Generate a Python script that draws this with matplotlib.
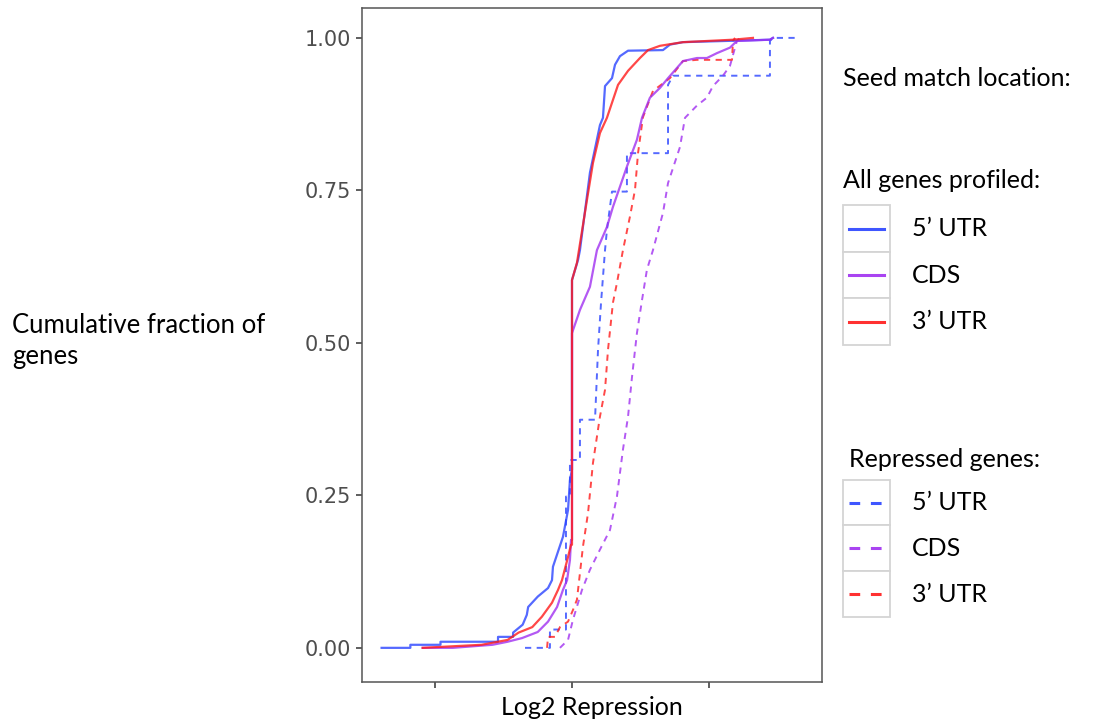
import matplotlib.pyplot as plt
from matplotlib.lines import Line2D
from matplotlib.patches import Rectangle

# Cumulative fraction curves (log2 repression vs. fraction of genes)
# all genes profiled, by seed match location
utr5_all_x = [-1.39, -1.18, -1.18, -0.96, -0.96, -0.54, -0.54, -0.43, -0.43, -0.36, -0.33,
              -0.32, -0.25, -0.175, -0.146, -0.139, -0.066, -0.029, -0.015, 0.0, 0.0, 0.044,
              0.058, 0.131, 0.204, 0.226, 0.241, 0.292, 0.314, 0.350, 0.409, 0.664, 0.715,
              0.810, 1.445, 1.467]
utr5_all_y = [0.0, 0.0, 0.005, 0.005, 0.010, 0.010, 0.018, 0.018, 0.025, 0.038, 0.054,
              0.067, 0.084, 0.098, 0.111, 0.133, 0.182, 0.226, 0.275, 0.292, 0.603, 0.636,
              0.652, 0.779, 0.857, 0.869, 0.921, 0.934, 0.956, 0.970, 0.979, 0.980, 0.989,
              0.993, 0.997, 1.0]

cds_all_x = [-1.09, -0.87, -0.58, -0.47, -0.365, -0.25, -0.175, -0.109, -0.066, -0.036,
             -0.015, -0.007, 0.0, 0.0, 0.058, 0.131, 0.182, 0.255, 0.299, 0.401, 0.474,
             0.511, 0.569, 0.642, 0.701, 0.810, 0.912, 0.985, 1.058, 1.153, 1.204, 1.445, 1.467]
cds_all_y = [0.0, 0.0, 0.005, 0.010, 0.016, 0.026, 0.043, 0.067, 0.095, 0.111,
             0.144, 0.177, 0.177, 0.516, 0.554, 0.592, 0.652, 0.690, 0.723, 0.789, 0.833,
             0.869, 0.902, 0.918, 0.934, 0.962, 0.967, 0.967, 0.975, 0.984, 0.995, 0.997, 1.0]

utr3_all_x = [-1.09, -0.66, -0.47, -0.39, -0.29, -0.22, -0.146, -0.102, -0.073, -0.029,
              -0.007, 0.0, 0.0, 0.036, 0.109, 0.153, 0.204, 0.255, 0.336, 0.409, 0.496,
              0.555, 0.642, 0.810, 1.175, 1.321]
utr3_all_y = [0.0, 0.005, 0.013, 0.025, 0.034, 0.051, 0.074, 0.095, 0.111, 0.149,
              0.169, 0.169, 0.603, 0.631, 0.734, 0.795, 0.844, 0.869, 0.923, 0.946, 0.967,
              0.980, 0.987, 0.993, 0.997, 1.0]

# repressed genes only
utr5_rep_x = [-0.343, -0.161, -0.161, -0.044, -0.044, -0.015, -0.015, 0.058, 0.058, 0.168,
              0.190, 0.212, 0.241, 0.255, 0.292, 0.401, 0.401, 0.701, 0.701, 0.737, 1.445,
              1.445, 1.467, 1.642]
utr5_rep_y = [0.0, 0.0, 0.030, 0.030, 0.248, 0.248, 0.308, 0.308, 0.374, 0.374,
              0.489, 0.566, 0.652, 0.685, 0.748, 0.748, 0.811, 0.811, 0.923, 0.938, 0.938,
              0.995, 1.0, 1.0]

cds_rep_x = [-0.088, -0.029, 0.007, 0.073, 0.131, 0.204, 0.277, 0.328, 0.372, 0.409,
             0.438, 0.474, 0.511, 0.547, 0.591, 0.664, 0.701, 0.788, 0.825, 0.912, 0.985,
             1.029, 1.102, 1.153, 1.190, 1.204, 1.226]
cds_rep_y = [0.0, 0.013, 0.046, 0.095, 0.128, 0.161, 0.193, 0.248, 0.325, 0.379,
             0.444, 0.516, 0.570, 0.620, 0.652, 0.713, 0.762, 0.821, 0.869, 0.889, 0.902,
             0.921, 0.938, 0.954, 0.984, 0.995, 1.0]

utr3_rep_x = [-0.182, -0.175, -0.124, -0.088, -0.029, 0.007, 0.036, 0.080, 0.117, 0.153,
              0.204, 0.241, 0.263, 0.299, 0.328, 0.372, 0.423, 0.460, 0.482, 0.518, 0.591,
              0.715, 0.810, 0.912, 1.168, 1.175, 1.190]
utr3_rep_y = [0.0, 0.018, 0.018, 0.034, 0.043, 0.062, 0.079, 0.166, 0.221, 0.303,
              0.379, 0.423, 0.489, 0.566, 0.598, 0.652, 0.707, 0.751, 0.811, 0.870, 0.913,
              0.934, 0.962, 0.964, 0.964, 0.995, 1.0]

locations = ["5\u2019 UTR", "CDS", "3\u2019 UTR"]
colors = ["#2a44ff", "#a030f0", "#ff1a1a"]
y_ticks = [0.0, 0.25, 0.5, 0.75, 1.0]
x_ticks = [-1, 0, 1]

W, H = 1102, 721
fig = plt.figure(figsize=(W / 100, H / 100), dpi=100)
ax = fig.add_axes([362 / W, (H - 682) / H, (822 - 362) / W, (682 - 8) / H])

all_curves = [(utr5_all_x, utr5_all_y), (cds_all_x, cds_all_y), (utr3_all_x, utr3_all_y)]
rep_curves = [(utr5_rep_x, utr5_rep_y), (cds_rep_x, cds_rep_y), (utr3_rep_x, utr3_rep_y)]

for (xs, ys), c in zip(rep_curves, colors):
    ax.plot(xs, ys, color=c, lw=1.4, alpha=0.8, dashes=(3.2, 2.8))
for (xs, ys), c in zip(all_curves, colors):
    ax.plot(xs, ys, color=c, lw=1.6, alpha=0.8)

ax.set_xlim(-1.533, 1.825)
ax.set_ylim(-0.056, 1.049)
ax.set_xticks(x_ticks)
ax.set_xticklabels([])
ax.set_yticks(y_ticks)
ax.set_yticklabels(["%.2f" % v for v in y_ticks], fontsize=15, color="#4d4d4d",
                   family="DejaVu Sans")
ax.tick_params(length=4, width=1.1, color="#333333", pad=4)
for sp in ax.spines.values():
    sp.set_color("#555555")
    sp.set_linewidth(1.1)

txt_font = "Lato"
ax.set_xlabel("Log2 Repression", fontsize=18, family=txt_font, labelpad=2)
fig.text(12 / W, 1 - 341 / H, "Cumulative fraction of\ngenes", ha="left", va="center",
         fontsize=18.5, family=txt_font, linespacing=1.3)


def fx(px):
    return px / W


def fy(py):
    return 1 - py / H


# legend blocks drawn by hand
fig.text(fx(843), fy(78), "Seed match location:", fontsize=18, family=txt_font, va="center")


def legend_block(title, title_pos, box_edges, dashed):
    fig.text(fx(title_pos[0]), fy(title_pos[1]), title, fontsize=18, family=txt_font,
             va="center")
    for i in range(3):
        top, bot = box_edges[i], box_edges[i + 1]
        fig.add_artist(Rectangle((fx(843), fy(bot)), fx(890) - fx(843), fy(top) - fy(bot),
                                 transform=fig.transFigure, facecolor="white",
                                 edgecolor="#d4d4d4", lw=1.3))
        yc = fy((top + bot) / 2)
        kw = dict(dashes=(3.5, 3.5)) if dashed else {}
        fig.add_artist(Line2D([fx(849), fx(884)], [yc, yc], transform=fig.transFigure,
                              color=colors[i], lw=2.2, alpha=0.9, **kw))
        fig.text(fx(912), yc, locations[i], fontsize=18, family=txt_font, va="center")


legend_block("All genes profiled:", (843, 180), [205, 252, 298, 345], False)
legend_block("Repressed genes:", (849, 459), [480, 525, 571, 617], True)

fig.savefig("out.png", dpi=100)
